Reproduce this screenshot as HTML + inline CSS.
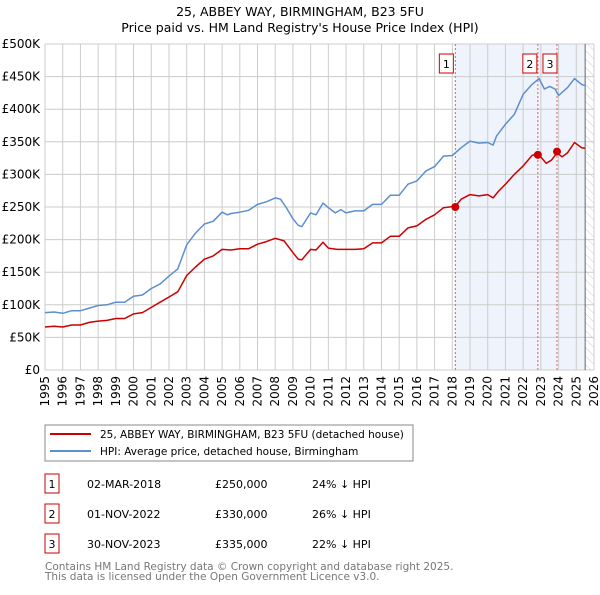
<!DOCTYPE html>
<html><head><meta charset="utf-8"><style>
body{margin:0;background:#fff;font-family:"Liberation Sans","DejaVu Sans",sans-serif;}
svg text{font-family:"DejaVu Sans","Liberation Sans",sans-serif;}
</style></head><body>
<svg id="c" width="600" height="590" xmlns="http://www.w3.org/2000/svg">
<defs><pattern id="hatch" width="6" height="6" patternUnits="userSpaceOnUse" patternTransform="rotate(-45)"><line x1="0" y1="0" x2="0" y2="6" stroke="#ccc" stroke-width="1"/></pattern></defs>
<text x="300" y="16" text-anchor="middle" font-size="12.5" fill="#000">25, ABBEY WAY, BIRMINGHAM, B23 5FU</text>
<text x="300" y="32" text-anchor="middle" font-size="12.5" fill="#000">Price paid vs. HM Land Registry's House Price Index (HPI)</text>
<g id="plot"></g>
<rect x="45" y="425" width="368" height="36" fill="#fff" stroke="#888"/>
<line x1="50" y1="434" x2="91" y2="434" stroke="#cc0000" stroke-width="2"/>
<text x="100" y="438" font-size="10.5">25, ABBEY WAY, BIRMINGHAM, B23 5FU (detached house)</text>
<line x1="50" y1="451" x2="91" y2="451" stroke="#5b8fd0" stroke-width="2"/>
<text x="100" y="455" font-size="10.5">HPI: Average price, detached house, Birmingham</text>
<g id="table" font-size="11"></g>
<text x="45" y="570" font-size="10.5" fill="#777">Contains HM Land Registry data © Crown copyright and database right 2025.</text>
<text x="45" y="580" font-size="10.5" fill="#777">This data is licensed under the Open Government Licence v3.0.</text>
</svg>
<script>
const hpiYears=[1995,1995.5,1996,1996.5,1997,1997.5,1998,1998.5,1999,1999.5,2000,2000.5,2001,2001.5,2002,2002.5,2003,2003.5,2004,2004.5,2005,2005.3,2005.5,2006,2006.5,2007,2007.5,2008,2008.3,2008.6,2009,2009.3,2009.5,2010,2010.3,2010.7,2011,2011.4,2011.7,2012,2012.5,2013,2013.5,2014,2014.5,2015,2015.5,2016,2016.5,2017,2017.5,2018,2018.5,2019,2019.5,2020,2020.3,2020.5,2021,2021.5,2022,2022.5,2022.9,2023.2,2023.5,2023.8,2024,2024.5,2024.9,2025.3,2025.5];
const hpiValues=[88,89,87,91,91,95,99,100,104,104,113,115,125,132,144,155,192,210,224,228,242,238,240,242,245,254,258,264,262,250,232,222,220,241,238,256,249,241,246,241,244,244,254,254,268,268,285,290,305,312,328,329,341,351,348,349,345,359,377,392,423,438,447,431,435,431,421,433,447,438,436];
const propYears=[1995,1995.5,1996,1996.5,1997,1997.5,1998,1998.5,1999,1999.5,2000,2000.5,2001,2001.5,2002,2002.5,2003,2003.5,2004,2004.5,2005,2005.5,2006,2006.5,2007,2007.5,2008,2008.5,2009,2009.3,2009.5,2010,2010.3,2010.7,2011,2011.5,2012,2012.5,2013,2013.5,2014,2014.5,2015,2015.5,2016,2016.5,2017,2017.5,2018.17,2018.5,2019,2019.5,2020,2020.3,2020.6,2021,2021.5,2022,2022.5,2022.83,2023.3,2023.6,2023.91,2024.2,2024.5,2024.9,2025.3,2025.5];
const propValues=[66,67,66,69,69,73,75,76,79,79,86,88,96,104,112,120,145,158,170,175,185,184,186,186,193,197,202,198,180,170,169,185,184,196,187,185,185,185,186,195,195,205,205,218,221,231,238,249,251,262,269,267,269,264,274,285,300,313,329,332,317,322,333,327,333,349,341,340];
const saleYears=[2018.17,2022.83,2023.91];
const saleValues=[250,330,335];
const saleLabels=["1","2","3"];
const saleDates=["02-MAR-2018","01-NOV-2022","30-NOV-2023"];
const salePrices=["£250,000","£330,000","£335,000"];
const saleDiffs=["24% ↓ HPI","26% ↓ HPI","22% ↓ HPI"];
const yTicks=[0,50,100,150,200,250,300,350,400,450,500];
const yTickLabels=["£0","£50K","£100K","£150K","£200K","£250K","£300K","£350K","£400K","£450K","£500K"];
const xTicks=[];for(let y=1995;y<=2026;y++)xTicks.push(y);

const X0=45,X1=594,Y0=370,Y1=44;
const xs=y=>X0+(y-1995)/(2026-1995)*(X1-X0);
const ys=v=>Y0-v/500*(Y0-Y1);
const NS="http://www.w3.org/2000/svg";
const plot=document.getElementById('plot');
function mk(tag,attrs,parent){const e=document.createElementNS(NS,tag);for(const k in attrs)e.setAttribute(k,attrs[k]);(parent||plot).appendChild(e);return e;}

let e=mk('rect',{x:xs(2018.17),y:Y1,width:xs(2025.5)-xs(2018.17),height:Y0-Y1,fill:'#eef3fc'});


e=mk('rect',{x:xs(2025.5),y:Y1,width:X1-xs(2025.5),height:Y0-Y1,fill:'url(#hatch)'});


xTicks.forEach(y=>{
  const g=mk('line',{x1:xs(y),x2:xs(y),y1:Y1,y2:Y0,stroke:'#ccc','stroke-width':1});
  
  
  const t=mk('text',{x:0,y:0,'font-size':12,'text-anchor':'end',transform:`translate(${xs(y)+4},${Y0+6}) rotate(-90)`});
  t.textContent=y;
  
  
});
yTicks.forEach((v,i)=>{
  const g=mk('line',{x1:X0,x2:X1,y1:ys(v),y2:ys(v),stroke:'#ccc','stroke-width':1});
  
  
  const t=mk('text',{x:X0-5,y:ys(v)+4,'font-size':12,'text-anchor':'end'});
  t.textContent=yTickLabels[i];
  
  
});
e=mk('line',{x1:xs(2025.5),x2:xs(2025.5),y1:Y1,y2:Y0,stroke:'#666','stroke-width':1});


saleYears.forEach((y,i)=>{
  const l=mk('line',{x1:xs(y),x2:xs(y),y1:Y1,y2:Y0,stroke:'#e06060','stroke-width':1,'stroke-dasharray':'2,2'});
  
  
});
function path(xa,va,col,name){
  const d=xa.map((y,i)=>(i?'L':'M')+xs(y).toFixed(1)+','+ys(va[i]).toFixed(1)).join('');
  const p=mk('path',{d:d,fill:'none',stroke:col,'stroke-width':1.5,'stroke-linejoin':'round'});
  
  
}
path(hpiYears,hpiValues,'#5b8fd0','hpi-line');
path(propYears,propValues,'#cc0000','property-line');
saleYears.forEach((y,i)=>{
  const c=mk('circle',{cx:xs(y),cy:ys(saleValues[i]),r:4,fill:'#cc0000'});
  
  
  const bx=i==1?xs(y)-8:xs(y)-9+(i==2?2:0);
  const r=mk('rect',{x:bx-7,y:54,width:14,height:19,fill:'#fff',stroke:'#cc0000'});
  
  
  const t=mk('text',{x:bx,y:68,'font-size':11,'text-anchor':'middle'});
  t.textContent=saleLabels[i];
  
  
});
const tb=document.getElementById('table');
saleLabels.forEach((lab,i)=>{
  const cy=483+i*30;
  const r=mk('rect',{x:45,y:cy-9,width:14,height:19,fill:'#fff',stroke:'#cc0000'},tb);
  
  
  const cols=[[52,lab,'middle','table-index'],[87,saleDates[i],'start','table-date'],[215,salePrices[i],'start','table-price'],[312,saleDiffs[i],'start','table-hpi-diff']];
  cols.forEach(c=>{
    const t=mk('text',{x:c[0],y:cy+5,'text-anchor':c[2]},tb);
    t.textContent=c[1];
    
    
  });
});
</script>
</body></html>
